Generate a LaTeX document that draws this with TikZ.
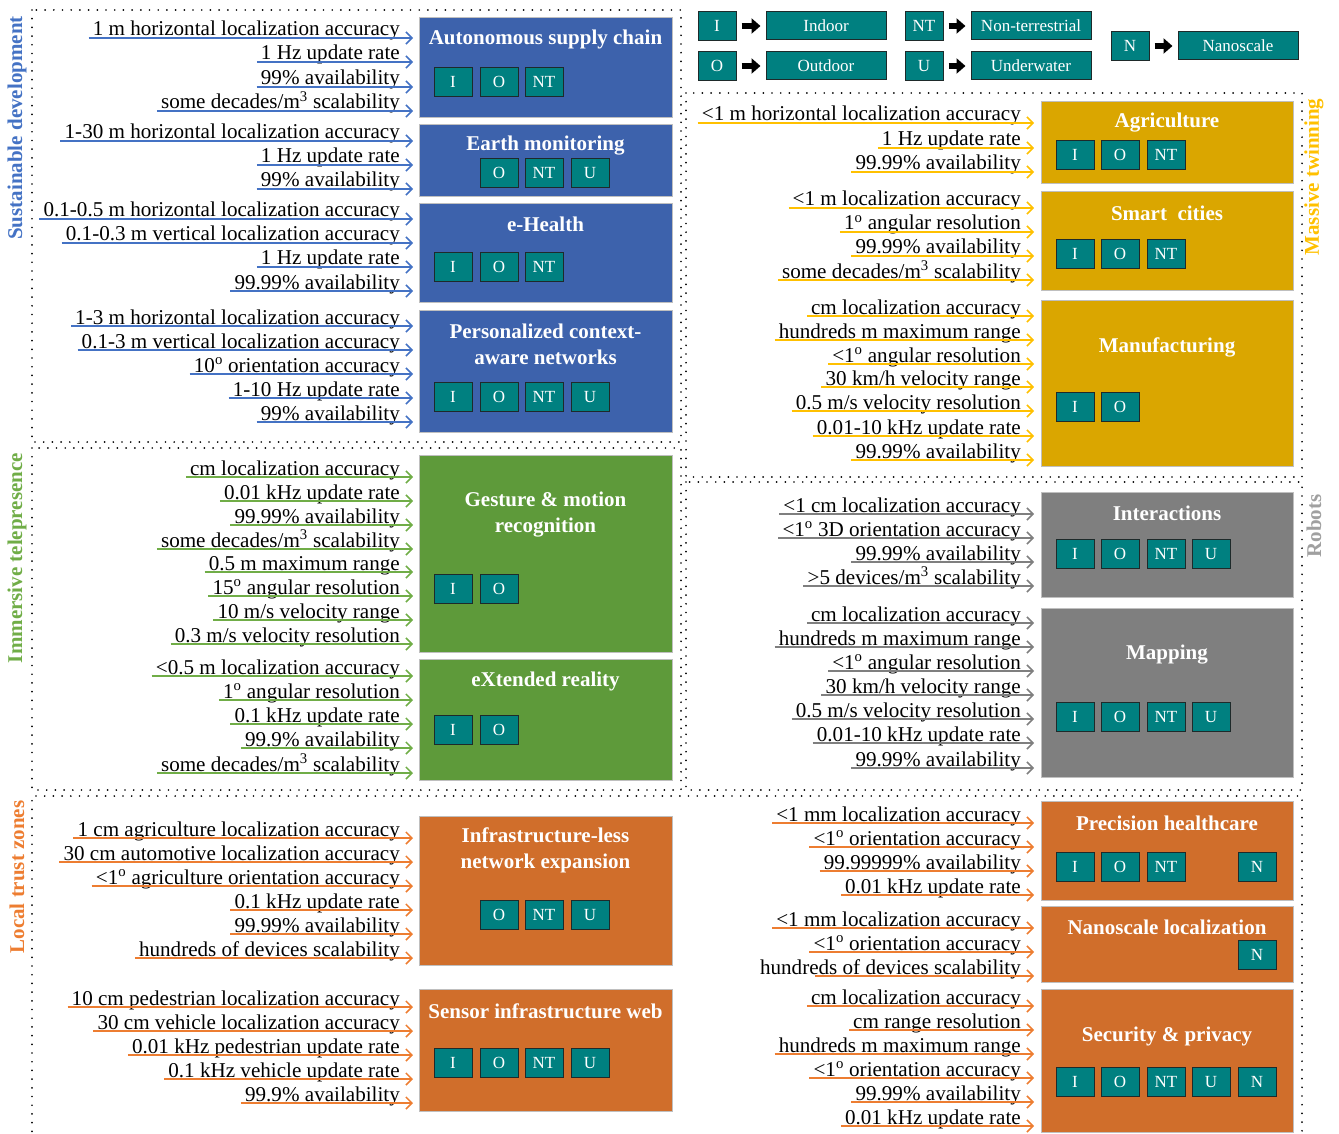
\documentclass[tikz,border=0pt]{standalone}
\usepackage{fontspec}
\setmainfont{Liberation Serif}
\usetikzlibrary{arrows.meta}

\definecolor{bluebox}{HTML}{3D62AC}
\definecolor{blueln}{HTML}{4472C4}
\definecolor{greenbox}{HTML}{5E9A3A}
\definecolor{greenln}{HTML}{70AD47}
\definecolor{goldbox}{HTML}{DAA600}
\definecolor{goldln}{HTML}{FFC000}
\definecolor{graybox}{HTML}{7F7F7F}
\definecolor{grayln}{HTML}{7F7F7F}
\definecolor{graylab}{HTML}{A0A0A0}
\definecolor{orangebox}{HTML}{D06E2B}
\definecolor{orangeln}{HTML}{ED7D31}
\definecolor{tealbox}{HTML}{008080}
\definecolor{chipedge}{HTML}{1E2A2A}

\newcounter{rowno}
% one requirement: text right-aligned at x, underline ending in an open arrow
\newcommand\reqrow[5][-4]{%
  \stepcounter{rowno}%
  \node[reqtext, anchor=base east] (req\arabic{rowno}) at (#2,#3+8) {#5};%
  \coordinate (tip\arabic{rowno}) at (#2+13,#3+10);%
  \draw[reqarrow, draw=#4] ([shift={(#1,2)}]req\arabic{rowno}.base west) -- (tip\arabic{rowno});%
}
% coloured use-case area given by its corners
\newcommand\usecase[6]{%
  \node[area, fill=#6, minimum width={#4-#2}, minimum height={#5-#3}] (#1) at ({(#2+#4)/2},{(#3+#5)/2}) {};%
}
% small environment tag
\newcommand\chip[4]{\node[chipbox] (#1) at (#2,#3) {#4};}

\begin{document}
\begin{tikzpicture}[x=1pt, y=-1pt,
  reqtext/.style={inner sep=0pt, font=\fontsize{21.1}{24}\selectfont},
  reqarrow/.style={line width=1.5pt, -{Straight Barb[length=6pt,width=12pt,line width=1.5pt]}},
  area/.style={draw=black!25, line width=0.8pt, inner sep=0pt},
  titletext/.style={text=white, font=\fontsize{21}{26}\bfseries\selectfont, align=center, inner sep=0pt},
  chipbox/.style={fill=tealbox, draw=chipedge, line width=1pt, minimum width=38pt, minimum height=29pt,
    inner sep=0pt, text=white, font=\fontsize{17}{20}\selectfont},
  legbox/.style={chipbox, minimum width=120pt, minimum height=28pt},
  legarrow/.style={line width=6pt, -{Triangle[length=9pt,width=15pt]}, shorten <=5pt, shorten >=5pt},
  dotframe/.style={line width=1.9pt, dash pattern=on 0pt off 8.7pt, line cap=round},
  sidelabel/.style={rotate=90, inner sep=0pt, font=\fontsize{21}{24}\bfseries\selectfont}
]
\useasboundingbox (0,0) rectangle (1339,1134);

% ---------- dotted group frames ----------
\draw[dotframe] (32,10) rectangle (681,442);
\draw[dotframe] (32,448) rectangle (681,790);
\draw[dotframe] (686,93) rectangle (1302,477);
\draw[dotframe] (686,482) rectangle (1302,790);
\draw[dotframe] (32,1140) -- (32,796) -- (1302,796) -- (1302,1140);

% ---------- group labels ----------
\node[sidelabel, text=blueln] (gsd) at (17,128) {Sustainable development};
\node[sidelabel, text=greenln] (git) at (17,558) {Immersive telepresence};
\node[sidelabel, text=orangeln] (gltz) at (17,877) {Local trust zones};
\node[sidelabel, text=goldln] (gmt) at (1314,177) {Massive twinning};
\node[sidelabel, text=graylab] (grb) at (1314,526) {Robots};

% ---------- legend ----------
\chip{lI}{717}{26}{I}
\chip{lO}{717}{66}{O}
\chip{lNT}{924}{26}{NT}
\chip{lU}{924}{66}{U}
\chip{lN}{1130}{46}{N}
\node[legbox] (tI) at (826,26) {Indoor};
\node[legbox] (tO) at (826,66) {Outdoor};
\node[legbox] (tNT) at (1031,26) {Non-terrestrial};
\node[legbox] (tU) at (1031,66) {Underwater};
\node[legbox] (tN) at (1238,46) {Nanoscale};
\foreach \a/\b in {lI/tI, lO/tO, lNT/tNT, lU/tU, lN/tN}
  \draw[legarrow] (\a.east) -- (\b.west);

% ---------- use-case areas ----------
\usecase{asc}{419}{17}{672}{117}{bluebox}
\usecase{earth}{419}{124}{672}{196}{bluebox}
\usecase{ehealth}{419}{203}{672}{302}{bluebox}
\usecase{pcan}{419}{310}{672}{432}{bluebox}
\usecase{gesture}{419}{455}{672}{652}{greenbox}
\usecase{xr}{419}{659}{672}{780}{greenbox}
\usecase{infra}{419}{816}{672}{965}{orangebox}
\usecase{sensor}{419}{989}{672}{1111}{orangebox}
\usecase{agri}{1041}{101}{1293}{183}{goldbox}
\usecase{smart}{1041}{191}{1293}{290}{goldbox}
\usecase{manuf}{1041}{300}{1293}{466}{goldbox}
\usecase{inter}{1041}{492}{1293}{597}{graybox}
\usecase{mapping}{1041}{608}{1293}{777}{graybox}
\usecase{prec}{1041}{801}{1293}{900}{orangebox}
\usecase{nano}{1041}{906}{1293}{982}{orangebox}
\usecase{sec}{1041}{989}{1293}{1132}{orangebox}

% ---------- titles ----------
\node[titletext] (ascT) at (545.5,39) {Autonomous supply chain};
\node[titletext] (earthT) at (545.5,146) {Earth monitoring};
\node[titletext] (ehealthT) at (545.5,224) {e-Health};
\node[titletext] (pcanT) at (545.5,344) {Personalized context-\\aware networks};
\node[titletext] (gestureT) at (545.5,515) {Gesture \& motion\\recognition};
\node[titletext] (xrT) at (545.5,681) {eXtended reality};
\node[titletext] (infraT) at (545.5,850) {Infrastructure-less\\network expansion};
\node[titletext] (sensorT) at (545.5,1011) {Sensor infrastructure web};
\node[titletext] (agriT) at (1167,123) {Agriculture};
\node[titletext] (smartT) at (1167,213) {Smart\ \ cities};
\node[titletext] (manufT) at (1167,347) {Manufacturing};
\node[titletext] (interT) at (1167,513) {Interactions};
\node[titletext] (mappingT) at (1167,655) {Mapping};
\node[titletext] (precT) at (1167,823) {Precision healthcare};
\node[titletext] (nanoT) at (1167,927) {Nanoscale localization};
\node[titletext] (secT) at (1167,1036) {Security \& privacy};

% ---------- environment tags ----------
\chip{ascI}{453}{82}{I}\chip{ascO}{499}{82}{O}\chip{ascNT}{544}{82}{NT}
\chip{earthO}{499}{173}{O}\chip{earthNT}{544}{173}{NT}\chip{earthU}{590}{173}{U}
\chip{ehI}{453}{267}{I}\chip{ehO}{499}{267}{O}\chip{ehNT}{544}{267}{NT}
\chip{pcI}{453}{397}{I}\chip{pcO}{499}{397}{O}\chip{pcNT}{544}{397}{NT}\chip{pcU}{590}{397}{U}
\chip{geI}{453}{589}{I}\chip{geO}{499}{589}{O}
\chip{xrI}{453}{730}{I}\chip{xrO}{499}{730}{O}
\chip{inO}{499}{915}{O}\chip{inNT}{544}{915}{NT}\chip{inU}{590}{915}{U}
\chip{seI}{453}{1063}{I}\chip{seO}{499}{1063}{O}\chip{seNT}{544}{1063}{NT}\chip{seU}{590}{1063}{U}
\chip{agI}{1075}{155}{I}\chip{agO}{1120}{155}{O}\chip{agNT}{1166}{155}{NT}
\chip{smI}{1075}{254}{I}\chip{smO}{1120}{254}{O}\chip{smNT}{1166}{254}{NT}
\chip{maI}{1075}{407}{I}\chip{maO}{1120}{407}{O}
\chip{itI}{1075}{554}{I}\chip{itO}{1120}{554}{O}\chip{itNT}{1166}{554}{NT}\chip{itU}{1211}{554}{U}
\chip{mpI}{1075}{717}{I}\chip{mpO}{1120}{717}{O}\chip{mpNT}{1166}{717}{NT}\chip{mpU}{1211}{717}{U}
\chip{phI}{1075}{867}{I}\chip{phO}{1120}{867}{O}\chip{phNT}{1166}{867}{NT}\chip{phN}{1257}{867}{N}
\chip{nlN}{1257}{955}{N}
\chip{spI}{1075}{1082}{I}\chip{spO}{1120}{1082}{O}\chip{spNT}{1166}{1082}{NT}\chip{spU}{1211}{1082}{U}\chip{spN}{1257}{1082}{N}

% ---------- requirements: sustainable development ----------
\reqrow{400}{28}{blueln}{1 m horizontal localization accuracy}
\reqrow{400}{52}{blueln}{1 Hz update rate}
\reqrow{400}{77}{blueln}{99\% availability}
\reqrow{400}{101}{blueln}{some decades/m\textsuperscript{3} scalability}
\reqrow{400}{131}{blueln}{1-30 m horizontal localization accuracy}
\reqrow{400}{155}{blueln}{1 Hz update rate}
\reqrow{400}{179}{blueln}{99\% availability}
\reqrow{400}{209}{blueln}{0.1-0.5 m horizontal localization accuracy}
\reqrow{400}{233}{blueln}{0.1-0.3 m vertical localization accuracy}
\reqrow{400}{257}{blueln}{1 Hz update rate}
\reqrow{400}{281}{blueln}{99.99\% availability}
\reqrow{400}{316}{blueln}{1-3 m horizontal localization accuracy}
\reqrow{400}{340}{blueln}{0.1-3 m vertical localization accuracy}
\reqrow{400}{364}{blueln}{10\textsuperscript{o} orientation accuracy}
\reqrow{400}{388}{blueln}{1-10 Hz update rate}
\reqrow{400}{412}{blueln}{99\% availability}

% ---------- requirements: immersive telepresence ----------
\reqrow{400}{467}{greenln}{cm localization accuracy}
\reqrow{400}{491}{greenln}{0.01 kHz update rate}
\reqrow{400}{515}{greenln}{99.99\% availability}
\reqrow{400}{539}{greenln}{some decades/m\textsuperscript{3} scalability}
\reqrow{400}{562}{greenln}{0.5 m maximum range}
\reqrow{400}{586}{greenln}{15\textsuperscript{o} angular resolution}
\reqrow{400}{610}{greenln}{10 m/s velocity range}
\reqrow{400}{634}{greenln}{0.3 m/s velocity resolution}
\reqrow{400}{666}{greenln}{<0.5 m localization accuracy}
\reqrow{400}{690}{greenln}{1\textsuperscript{o} angular resolution}
\reqrow{400}{714}{greenln}{0.1 kHz update rate}
\reqrow{400}{738}{greenln}{99.9\% availability}
\reqrow{400}{763}{greenln}{some decades/m\textsuperscript{3} scalability}

% ---------- requirements: local trust zones (left) ----------
\reqrow{400}{828}{orangeln}{1 cm agriculture localization accuracy}
\reqrow{400}{852}{orangeln}{30 cm automotive localization accuracy}
\reqrow{400}{876}{orangeln}{<1\textsuperscript{o} agriculture orientation accuracy}
\reqrow{400}{900}{orangeln}{0.1 kHz update rate}
\reqrow{400}{924}{orangeln}{99.99\% availability}
\reqrow{400}{948}{orangeln}{hundreds of devices scalability}
\reqrow{400}{997}{orangeln}{10 cm pedestrian localization accuracy}
\reqrow{400}{1021}{orangeln}{30 cm vehicle localization accuracy}
\reqrow{400}{1045}{orangeln}{0.01 kHz pedestrian update rate}
\reqrow{400}{1069}{orangeln}{0.1 kHz vehicle update rate}
\reqrow{400}{1093}{orangeln}{99.9\% availability}

% ---------- requirements: massive twinning ----------
\reqrow{1021}{113}{goldln}{<1 m horizontal localization accuracy}
\reqrow{1021}{138}{goldln}{1 Hz update rate}
\reqrow{1021}{162}{goldln}{99.99\% availability}
\reqrow{1021}{198}{goldln}{<1 m localization accuracy}
\reqrow{1021}{222}{goldln}{1\textsuperscript{o} angular resolution}
\reqrow{1021}{246}{goldln}{99.99\% availability}
\reqrow{1021}{270}{goldln}{some decades/m\textsuperscript{3} scalability}
\reqrow{1021}{306}{goldln}{cm localization accuracy}
\reqrow{1021}{330}{goldln}{hundreds m maximum range}
\reqrow{1021}{354}{goldln}{<1\textsuperscript{o} angular resolution}
\reqrow{1021}{377}{goldln}{30 km/h velocity range}
\reqrow{1021}{401}{goldln}{0.5 m/s velocity resolution}
\reqrow{1021}{426}{goldln}{0.01-10 kHz update rate}
\reqrow{1021}{450}{goldln}{99.99\% availability}

% ---------- requirements: robots ----------
\reqrow{1021}{504}{grayln}{<1 cm localization accuracy}
\reqrow{1021}{528}{grayln}{<1\textsuperscript{o} 3D orientation accuracy}
\reqrow{1021}{552}{grayln}{99.99\% availability}
\reqrow{1021}{576}{grayln}{>5 devices/m\textsuperscript{3} scalability}
\reqrow{1021}{613}{grayln}{cm localization accuracy}
\reqrow{1021}{637}{grayln}{hundreds m maximum range}
\reqrow{1021}{661}{grayln}{<1\textsuperscript{o} angular resolution}
\reqrow{1021}{685}{grayln}{30 km/h velocity range}
\reqrow{1021}{709}{grayln}{0.5 m/s velocity resolution}
\reqrow{1021}{733}{grayln}{0.01-10 kHz update rate}
\reqrow{1021}{758}{grayln}{99.99\% availability}

% ---------- requirements: local trust zones (right) ----------
\reqrow{1021}{813}{orangeln}{<1 mm localization accuracy}
\reqrow{1021}{837}{orangeln}{<1\textsuperscript{o} orientation accuracy}
\reqrow{1021}{861}{orangeln}{99.99999\% availability}
\reqrow{1021}{885}{orangeln}{0.01 kHz update rate}
\reqrow{1021}{918}{orangeln}{<1 mm localization accuracy}
\reqrow{1021}{942}{orangeln}{<1\textsuperscript{o} orientation accuracy}
\reqrow[55]{1021}{966}{orangeln}{hundreds of devices scalability}
\reqrow{1021}{996}{orangeln}{cm localization accuracy}
\reqrow{1021}{1020}{orangeln}{cm range resolution}
\reqrow{1021}{1044}{orangeln}{hundreds m maximum range}
\reqrow{1021}{1068}{orangeln}{<1\textsuperscript{o} orientation accuracy}
\reqrow{1021}{1092}{orangeln}{99.99\% availability}
\reqrow{1021}{1116}{orangeln}{0.01 kHz update rate}

\end{tikzpicture}
\end{document}
